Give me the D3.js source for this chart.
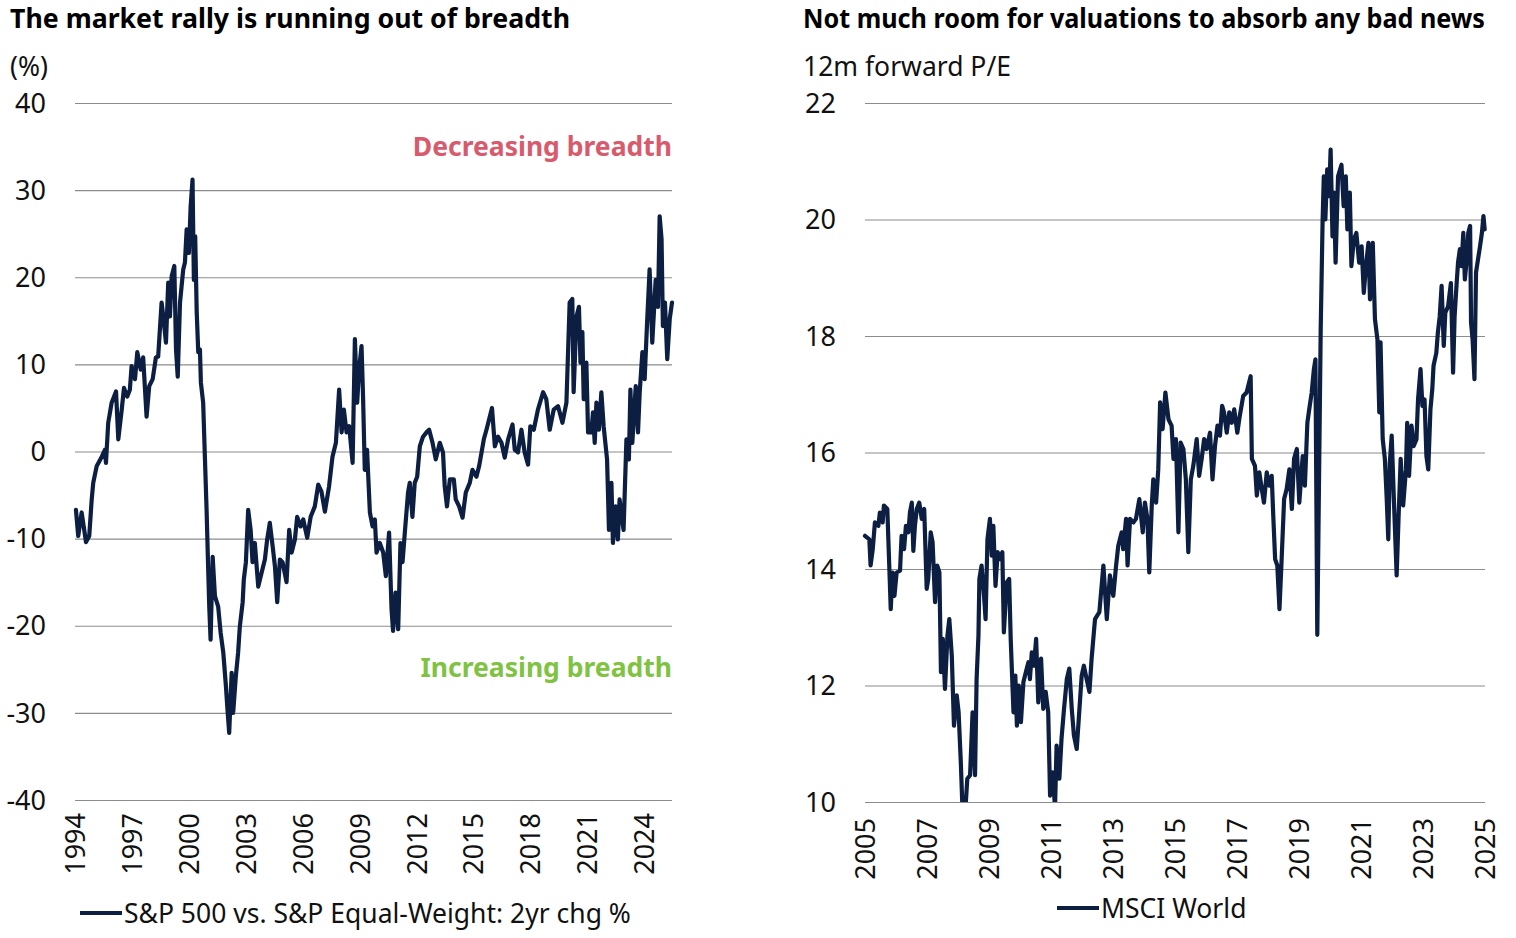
<!DOCTYPE html>
<html>
<head>
<meta charset="utf-8">
<script src="https://cdn.jsdelivr.net/npm/d3@7"></script>
<style>
  body { margin: 0; background: #fff; }
  svg { display: block; font-family: "Noto Sans", "Open Sans", sans-serif; }
</style>
</head>
<body>
<svg id="chart" width="1516" height="938"></svg>
<script>
// left panel: S&P 500 vs equal-weight, 2yr change (%)
const breadthYears = [
  1994.05, 1994.17, 1994.35, 1994.58, 1994.75, 1994.88, 1994.96, 1995.14, 1995.41, 1995.58,
  1995.63, 1995.75, 1995.93, 1996.16, 1996.28, 1996.46, 1996.58, 1996.75, 1996.89, 1996.98,
  1997.16, 1997.28, 1997.46, 1997.59, 1997.77, 1997.91, 1998.09, 1998.26, 1998.38, 1998.56,
  1998.65, 1998.79, 1998.91, 1999.0, 1999.09, 1999.23, 1999.32, 1999.41, 1999.53, 1999.7,
  1999.79, 1999.88, 2000.0, 2000.09, 2000.19, 2000.26, 2000.33, 2000.41, 2000.49, 2000.58,
  2000.63, 2000.75, 2000.84, 2000.93, 2001.0, 2001.07, 2001.14, 2001.25, 2001.37, 2001.54,
  2001.67, 2001.81, 2001.95, 2002.02, 2002.12, 2002.25, 2002.33, 2002.47, 2002.59, 2002.68,
  2002.83, 2002.89, 2003.0, 2003.12, 2003.25, 2003.35, 2003.47, 2003.65, 2003.83, 2004.0,
  2004.12, 2004.26, 2004.41, 2004.53, 2004.65, 2004.79, 2004.93, 2005.14, 2005.28, 2005.41,
  2005.58, 2005.7, 2005.88, 2006.02, 2006.23, 2006.41, 2006.63, 2006.81, 2006.98, 2007.16,
  2007.38, 2007.56, 2007.74, 2007.91, 2008.04, 2008.16, 2008.3, 2008.44, 2008.62, 2008.74,
  2008.86, 2008.96, 2009.09, 2009.17, 2009.26, 2009.38, 2009.53, 2009.67, 2009.79, 2009.88,
  2010.05, 2010.23, 2010.37, 2010.54, 2010.67, 2010.75, 2010.88, 2011.02, 2011.14, 2011.25,
  2011.37, 2011.54, 2011.63, 2011.77, 2011.89, 2012.02, 2012.16, 2012.33, 2012.51, 2012.65,
  2012.83, 2013.0, 2013.21, 2013.38, 2013.47, 2013.59, 2013.74, 2013.95, 2014.05, 2014.23,
  2014.41, 2014.58, 2014.79, 2014.93, 2015.14, 2015.28, 2015.41, 2015.53, 2015.67, 2015.81,
  2015.96, 2016.11, 2016.28, 2016.46, 2016.63, 2016.81, 2017.04, 2017.16, 2017.33, 2017.51,
  2017.68, 2017.86, 2017.98, 2018.16, 2018.38, 2018.65, 2018.82, 2019.0, 2019.21, 2019.44,
  2019.67, 2019.88, 2020.05, 2020.19, 2020.26, 2020.41, 2020.54, 2020.62, 2020.72, 2020.79,
  2020.93, 2021.02, 2021.19, 2021.28, 2021.37, 2021.46, 2021.59, 2021.72, 2021.84, 2022.02,
  2022.12, 2022.25, 2022.33, 2022.47, 2022.59, 2022.68, 2022.89, 2023.04, 2023.17, 2023.25,
  2023.35, 2023.53, 2023.65, 2023.74, 2023.88, 2024.0, 2024.12, 2024.26, 2024.4, 2024.58,
  2024.7, 2024.79, 2024.89, 2024.96, 2025.07, 2025.19, 2025.32, 2025.44
];
const breadthValues = [
  -6.7, -9.7, -7.0, -10.4, -9.7, -5.5, -3.6, -1.7, -0.6, 0.2,
  -1.3, 3.3, 5.6, 6.9, 1.4, 4.8, 7.3, 6.3, 7.1, 9.8,
  8.3, 11.4, 9.4, 10.8, 4.0, 7.5, 8.3, 10.8, 10.9, 17.1,
  15.5, 12.5, 19.4, 15.5, 20.1, 21.3, 11.7, 8.6, 17.1, 20.9,
  21.7, 25.5, 22.8, 28.1, 31.2, 19.7, 24.7, 16.0, 11.4, 11.7,
  7.9, 5.6, -0.6, -6.7, -12.4, -17.8, -21.6, -12.1, -16.6, -17.8,
  -20.8, -23.1, -27.0, -29.3, -32.3, -25.4, -30.0, -25.8, -23.1, -20.1,
  -17.3, -14.7, -12.7, -6.7, -9.0, -12.7, -10.5, -15.5, -13.9, -12.4,
  -10.1, -8.2, -10.9, -13.2, -17.3, -12.4, -12.7, -15.0, -9.0, -11.6,
  -10.1, -7.5, -8.6, -7.8, -9.9, -7.5, -6.3, -3.8, -4.6, -6.9,
  -4.0, -0.6, 1.0, 7.1, 2.2, 4.8, 2.2, 2.9, -1.3, 12.9,
  5.6, 9.4, 12.1, 6.3, -2.1, 0.2, -7.0, -8.6, -7.8, -11.6,
  -10.5, -11.6, -14.3, -9.3, -18.1, -20.6, -16.2, -20.4, -10.5, -12.7,
  -9.3, -4.7, -3.6, -7.5, -3.6, -2.9, 0.6, 1.7, 2.2, 2.5,
  1.0, -0.9, 1.0, -0.1, -4.0, -6.3, -3.2, -3.2, -5.5, -6.3,
  -7.6, -4.7, -3.6, -2.1, -2.9, -1.7, -0.1, 1.4, 2.5, 3.7,
  5.0, 0.6, 1.7, 1.0, -0.7, 1.4, 3.1, 0.2, -0.1, 2.5,
  -0.1, -1.5, 2.9, 2.5, 4.8, 6.8, 6.0, 2.5, 4.8, 5.2,
  3.3, 5.6, 17.1, 17.5, 6.8, 15.5, 16.6, 10.2, 13.7, 6.0,
  10.2, 2.2, 2.2, 4.5, 1.0, 5.6, 2.5, 6.8, 2.9, -0.9,
  -9.0, -3.6, -10.5, -6.3, -10.1, -5.5, -9.0, 1.4, -0.9, 7.1,
  1.0, 7.5, 2.2, 6.8, 11.4, 8.3, 14.4, 20.9, 12.5, 19.7,
  16.6, 27.0, 24.4, 14.4, 17.1, 10.6, 15.2, 17.1
];
const breadthTicksY = [40, 30, 20, 10, 0, -10, -20, -30, -40];
const breadthTicksX = [1994, 1997, 2000, 2003, 2006, 2009, 2012, 2015, 2018, 2021, 2024];

// right panel: MSCI World 12m forward P/E
const peYears = [
  2005.0, 2005.14, 2005.18, 2005.25, 2005.32, 2005.43, 2005.48, 2005.57, 2005.61, 2005.72,
  2005.79, 2005.83, 2005.89, 2005.95, 2006.02, 2006.13, 2006.18, 2006.26, 2006.32, 2006.4,
  2006.45, 2006.51, 2006.56, 2006.61, 2006.67, 2006.75, 2006.83, 2006.91, 2006.99, 2007.04,
  2007.12, 2007.18, 2007.26, 2007.33, 2007.4, 2007.45, 2007.51, 2007.58, 2007.66, 2007.72,
  2007.8, 2007.87, 2007.96, 2008.02, 2008.09, 2008.15, 2008.23, 2008.3, 2008.39, 2008.47,
  2008.55, 2008.6, 2008.66, 2008.69, 2008.76, 2008.84, 2008.89, 2008.95, 2009.03, 2009.09,
  2009.14, 2009.21, 2009.28, 2009.35, 2009.43, 2009.48, 2009.57, 2009.65, 2009.7, 2009.79,
  2009.85, 2009.9, 2009.96, 2010.03, 2010.11, 2010.19, 2010.27, 2010.32, 2010.38, 2010.45,
  2010.52, 2010.59, 2010.68, 2010.75, 2010.83, 2010.91, 2010.97, 2011.05, 2011.13, 2011.18,
  2011.27, 2011.34, 2011.42, 2011.51, 2011.59, 2011.67, 2011.74, 2011.83, 2011.91, 2011.99,
  2012.06, 2012.15, 2012.24, 2012.31, 2012.42, 2012.56, 2012.69, 2012.8, 2012.9, 2013.01,
  2013.1, 2013.17, 2013.28, 2013.33, 2013.42, 2013.47, 2013.55, 2013.66, 2013.74, 2013.85,
  2013.96, 2014.03, 2014.11, 2014.17, 2014.25, 2014.3, 2014.39, 2014.46, 2014.52, 2014.6,
  2014.69, 2014.79, 2014.89, 2014.95, 2015.03, 2015.11, 2015.18, 2015.27, 2015.35, 2015.43,
  2015.51, 2015.59, 2015.7, 2015.78, 2015.86, 2015.94, 2016.02, 2016.13, 2016.21, 2016.29,
  2016.37, 2016.45, 2016.52, 2016.58, 2016.67, 2016.75, 2016.83, 2016.91, 2017.01, 2017.09,
  2017.2, 2017.31, 2017.44, 2017.48, 2017.58, 2017.64, 2017.72, 2017.8, 2017.87, 2017.96,
  2018.04, 2018.12, 2018.17, 2018.23, 2018.3, 2018.37, 2018.44, 2018.52, 2018.6, 2018.69,
  2018.77, 2018.84, 2018.93, 2019.01, 2019.12, 2019.19, 2019.27, 2019.33, 2019.41, 2019.48,
  2019.53, 2019.59, 2019.7, 2019.76, 2019.8, 2019.85, 2019.91, 2019.97, 2020.02, 2020.08,
  2020.13, 2020.18, 2020.26, 2020.37, 2020.44, 2020.51, 2020.56, 2020.64, 2020.69, 2020.77,
  2020.85, 2020.94, 2021.02, 2021.09, 2021.16, 2021.24, 2021.29, 2021.38, 2021.45, 2021.53,
  2021.59, 2021.63, 2021.7, 2021.77, 2021.83, 2021.88, 2021.93, 2021.99, 2022.06, 2022.15,
  2022.21, 2022.28, 2022.36, 2022.45, 2022.49, 2022.55, 2022.63, 2022.7, 2022.79, 2022.84,
  2022.92, 2022.98, 2023.05, 2023.11, 2023.17, 2023.24, 2023.3, 2023.34, 2023.43, 2023.48,
  2023.54, 2023.6, 2023.67, 2023.72, 2023.81, 2023.9, 2023.97, 2024.02, 2024.08, 2024.13,
  2024.19, 2024.24, 2024.3, 2024.35, 2024.41, 2024.46, 2024.52, 2024.55, 2024.6, 2024.66,
  2024.71, 2024.79, 2024.84, 2024.9, 2024.95, 2024.99
];
const peValues = [
  14.57, 14.51, 14.06, 14.34, 14.8, 14.74, 14.97, 14.8, 15.09, 15.03,
  13.94, 13.31, 13.94, 13.54, 13.94, 13.97, 14.57, 14.34, 14.74, 14.63,
  14.97, 15.14, 14.31, 14.74, 15.03, 15.14, 14.86, 15.03, 13.66, 13.83,
  14.63, 14.46, 13.43, 14.06, 13.94, 12.23, 12.8, 11.94, 12.86, 13.14,
  12.51, 11.31, 11.83, 11.54, 10.69, 9.8, 9.8, 10.4, 10.46, 11.54,
  10.46, 12.11, 12.86, 13.83, 14.06, 13.54, 13.14, 14.51, 14.86, 14.23,
  14.74, 13.71, 14.29, 14.17, 14.29, 12.91, 13.77, 13.83, 12.8, 11.54,
  12.17, 11.31, 12.0, 11.37, 12.06, 12.23, 12.4, 12.11, 12.57, 12.34,
  12.8, 11.71, 12.46, 11.6, 11.89, 11.54, 10.11, 10.51, 9.9, 10.97,
  10.4, 11.09, 11.6, 12.11, 12.29, 11.6, 11.14, 10.91, 11.54, 12.17,
  12.34, 12.11, 11.89, 12.46, 13.14, 13.26, 14.06, 13.14, 13.89, 13.54,
  14.06, 14.4, 14.63, 14.34, 14.86, 14.06, 14.86, 14.8, 14.86, 15.2,
  14.63, 15.14, 14.86, 13.94, 15.09, 15.54, 15.14, 15.71, 16.86, 16.4,
  17.03, 16.57, 16.46, 15.89, 16.23, 14.63, 16.17, 16.06, 15.54, 14.29,
  15.54, 15.77, 16.23, 15.6, 15.89, 16.23, 16.06, 16.34, 15.54, 16.11,
  16.46, 16.29, 16.8, 16.69, 16.34, 16.69, 16.51, 16.74, 16.34, 16.63,
  16.97, 17.03, 17.31, 15.89, 15.77, 15.26, 15.66, 15.37, 15.14, 15.66,
  15.43, 15.6, 14.91, 14.17, 14.06, 13.31, 14.17, 15.2, 15.37, 15.71,
  15.03, 15.89, 16.06, 15.14, 15.94, 15.43, 16.51, 16.74, 17.03, 17.43,
  17.6, 12.87, 18.11, 19.94, 20.74, 20.0, 20.86, 20.4, 21.2, 19.71,
  20.46, 19.26, 20.74, 20.94, 20.23, 20.74, 19.83, 20.46, 19.2, 19.66,
  19.77, 19.26, 19.54, 18.74, 19.2, 19.6, 18.63, 19.6, 18.29, 17.94,
  16.69, 17.89, 16.23, 15.89, 15.2, 14.51, 15.83, 16.29, 15.2, 13.89,
  14.86, 15.89, 15.09, 15.71, 16.51, 15.6, 16.46, 16.11, 16.23, 16.91,
  17.43, 16.8, 16.91, 15.94, 15.71, 16.74, 17.09, 17.49, 17.71, 18.06,
  18.34, 18.86, 17.83, 18.4, 18.51, 18.91, 17.37, 18.34, 18.86, 19.26,
  19.49, 19.2, 19.77, 18.97, 19.31, 19.77, 19.89, 18.23, 17.94, 17.26,
  19.09, 19.37, 19.54, 19.77, 20.06, 19.83
];
const peTicksY = [22, 20, 18, 16, 14, 12, 10];
const peTicksX = [2005, 2007, 2009, 2011, 2013, 2015, 2017, 2019, 2021, 2023, 2025];

const lineColor = "#0c1f42";
const gridColor = "#8c8c8c";
const textSize = 26.5;
const tickSize = 27;

const svg = d3.select("#chart");

function drawPanel(opts) {
  const { left, right, top, bottom, xDomain, yDomain, xTicks, yTicks, years, values, clipId } = opts;
  const x = d3.scaleLinear().domain(xDomain).range([left, right]);
  const y = d3.scaleLinear().domain(yDomain).range([bottom, top]);
  const g = svg.append("g");

  g.append("text")
    .attr("x", opts.titleX).attr("y", 28)
    .attr("textLength", opts.titleWidth)
    .attr("lengthAdjust", "spacingAndGlyphs")
    .style("font-size", "26px").style("font-weight", "bold").style("fill", "#000")
    .text(opts.title);

  g.append("text")
    .attr("x", opts.unitX).attr("y", 76)
    .style("font-size", textSize + "px").style("fill", "#111")
    .text(opts.unit);

  // gridlines
  g.append("g")
    .attr("transform", `translate(${left},0)`)
    .call(d3.axisLeft(y).tickValues(yTicks).tickSize(-(right - left)).tickFormat(""))
    .call(a => a.select(".domain").remove())
    .call(a => a.selectAll("line").attr("stroke", gridColor).attr("stroke-width", 1.2));

  // y labels
  g.append("g")
    .selectAll("text")
    .data(yTicks)
    .join("text")
    .attr("x", opts.yLabelX)
    .attr("y", d => y(d))
    .attr("dy", "0.36em")
    .attr("text-anchor", "end")
    .style("font-size", tickSize + "px").style("fill", "#111")
    .text(d => String(d));

  // x labels, rotated
  g.append("g")
    .selectAll("text")
    .data(xTicks)
    .join("text")
    .attr("transform", d => `translate(${x(d)},${bottom + opts.xLabelGap}) rotate(-90)`)
    .attr("dy", "0.36em")
    .attr("text-anchor", "end")
    .style("font-size", tickSize + "px").style("fill", "#111")
    .text(d => d);

  svg.append("clipPath").attr("id", clipId)
    .append("rect").attr("x", left - 5).attr("y", top).attr("width", right - left + 10).attr("height", bottom - top);

  const pts = years.map((yr, i) => [yr, values[i]]);
  const line = d3.line().x(d => x(d[0])).y(d => y(d[1]));
  g.append("path")
    .datum(pts)
    .attr("clip-path", `url(#${clipId})`)
    .attr("fill", "none")
    .attr("stroke", lineColor)
    .attr("stroke-width", 4.2)
    .attr("stroke-linejoin", "round")
    .attr("stroke-linecap", "round")
    .attr("d", line);

  // legend
  g.append("line")
    .attr("x1", opts.legendX).attr("x2", opts.legendX + 42)
    .attr("y1", opts.legendY).attr("y2", opts.legendY)
    .attr("stroke", lineColor).attr("stroke-width", 4);
  g.append("text")
    .attr("x", opts.legendX + 44).attr("y", opts.legendY)
    .attr("dy", "0.36em")
    .style("font-size", textSize + "px").style("fill", "#111")
    .text(opts.legend);

  return { x, y, g };
}

const leftPanel = drawPanel({
  left: 75, right: 672, top: 103, bottom: 800,
  xDomain: [1994, 2025.44], yDomain: [-40, 40],
  xTicks: breadthTicksX, yTicks: breadthTicksY,
  years: breadthYears, values: breadthValues, clipId: "clipL",
  title: "The market rally is running out of breadth", titleX: 10, titleWidth: 560,
  unit: "(%)", unitX: 10, yLabelX: 46, xLabelGap: 13,
  legend: "S&P 500 vs. S&P Equal-Weight: 2yr chg %", legendX: 80, legendY: 913
});

leftPanel.g.append("text")
  .attr("x", 672).attr("y", leftPanel.y(35))
  .attr("dy", "0.36em")
  .attr("text-anchor", "end")
  .style("font-size", "26.5px").style("font-weight", "bold").style("fill", "#d75b6d")
  .text("Decreasing breadth");

leftPanel.g.append("text")
  .attr("x", 672).attr("y", leftPanel.y(-24.8))
  .attr("dy", "0.36em")
  .attr("text-anchor", "end")
  .style("font-size", "26.5px").style("font-weight", "bold").style("fill", "#80c342")
  .text("Increasing breadth");

drawPanel({
  left: 865, right: 1485, top: 103, bottom: 802,
  xDomain: [2005, 2025], yDomain: [10, 22],
  xTicks: peTicksX, yTicks: peTicksY,
  years: peYears, values: peValues, clipId: "clipR",
  title: "Not much room for valuations to absorb any bad news", titleX: 803, titleWidth: 682,
  unit: "12m forward P/E", unitX: 803, yLabelX: 836, xLabelGap: 16,
  legend: "MSCI World", legendX: 1057, legendY: 908
});
</script>
</body>
</html>
